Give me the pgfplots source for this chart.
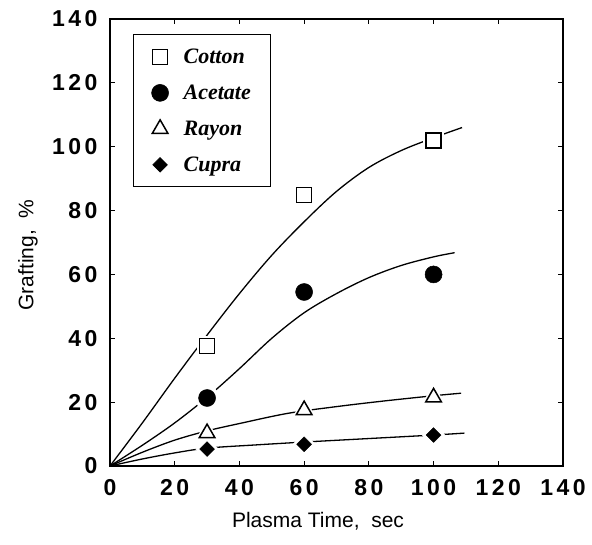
\documentclass[border=0pt]{standalone}
\usepackage{pgfplots}
\pgfplotsset{compat=1.18}
\usepackage{fontspec}
\setmainfont{Liberation Sans}
\newfontfamily\tickfont[LetterSpace=15]{Liberation Sans}
\newfontfamily\legfont{Liberation Serif}
\begin{document}
\begin{tikzpicture}
\begin{axis}[
  at={(0pt,0pt)}, anchor=south west,
  scale only axis, width=453pt, height=447pt,
  xmin=0, xmax=140, ymin=0, ymax=140,
  xtick={0,20,...,140}, ytick={0,20,...,140},
  tick align=inside, major tick length=5pt,
  axis line style={line width=1.3pt},
  every tick/.style={line width=1pt, black},
  /pgf/number format/assume math mode=true,
  tick label style={font=\tickfont\bfseries\fontsize{23}{25}\selectfont},
  xticklabel style={yshift=-10pt},
  yticklabel style={xshift=-9pt},
  clip=false,
  legend cell align=left,
  legend image code/.code={\draw[#1] plot coordinates {(0pt,0pt)};},
  legend style={at={(rel axis cs:0.0508,0.966)}, anchor=north west,
    draw=black, line width=1.2pt,
    font=\legfont\bfseries\itshape\fontsize{22}{24}\selectfont,
    row sep=16pt, column sep=13pt, inner xsep=18pt, inner ysep=12pt},
]
% fitted curves
\addplot[forget plot, black, line width=1.3pt, smooth, tension=0.55] coordinates {
 (0,0) (10,13.5) (20,27.5) (30,41) (40,54) (50,66) (60,76.5) (70,86) (80,93.5) (90,98.8) (100,102.8) (108.8,106)};
\addplot[forget plot, black, line width=1.3pt, smooth, tension=0.55] coordinates {
 (0,0) (10,6.5) (20,13.5) (30,21.5) (40,30.5) (50,40) (60,48) (70,54) (80,59) (90,62.8) (100,65.5) (106.5,66.8)};
\addplot[forget plot, black, line width=1.3pt, smooth, tension=0.55] coordinates {
 (0,0) (10,4.3) (20,8.1) (30,11) (40,13.3) (55,16.5) (70,18.6) (85,20.4) (100,22) (108.5,22.8)};
\addplot[forget plot, black, line width=1.3pt, smooth, tension=0.55] coordinates {
 (0,0) (10,2.2) (20,4.1) (30,5.6) (45,6.6) (60,7.5) (80,8.6) (100,9.7) (109.5,10.3)};
% white halos that cut the curves around the marks
\addplot[forget plot, only marks, mark=square*, mark size=10pt, white] coordinates {(30,37.6) (60,84.8) (100,102)};
\addplot[forget plot, only marks, mark=*, mark size=12pt, white] coordinates {(30,21.3) (60,54.5) (100,60)};
\addplot[forget plot, only marks, mark=triangle*, mark size=13pt, white] coordinates {(30,10.3) (60,17.5) (100,21.5)};
\addplot[forget plot, only marks, mark=square*, mark size=8pt, mark options={rotate=45}, white] coordinates {(30,5.3) (60,6.8) (100,9.7)};
% data
\addplot[only marks, mark=square, mark size=7.5pt, mark options={line width=1.5pt, black, fill=white}] coordinates {(30,37.6) (60,84.8) (100,102)};
\addlegendentry{Cotton}
\addplot[only marks, mark=*, mark size=8.5pt, mark options={line width=0.5pt, black, fill=black}] coordinates {(30,21.3) (60,54.5) (100,60)};
\addlegendentry{Acetate}
\addplot[only marks, mark=triangle, mark size=9pt, mark options={line width=1.5pt, black, fill=white}] coordinates {(30,10.3) (60,17.5) (100,21.5)};
\addlegendentry{Rayon}
\addplot[only marks, mark=square*, mark size=5.2pt, mark options={rotate=45, line width=0.5pt, black, fill=black}] coordinates {(30,5.3) (60,6.8) (100,9.7)};
\addlegendentry{Cupra}
\end{axis}
\node[font=\fontsize{21}{23}\selectfont] at (208pt,-55pt) {Plasma Time,\ \ sec};
\node[font=\fontsize{21}{23}\selectfont, rotate=90] at (-82pt,211pt) {Grafting,\ \ \%};
\pgfresetboundingbox
\path[use as bounding box] (-110pt,-78pt) rectangle (482pt,466pt);
\end{tikzpicture}
\end{document}
